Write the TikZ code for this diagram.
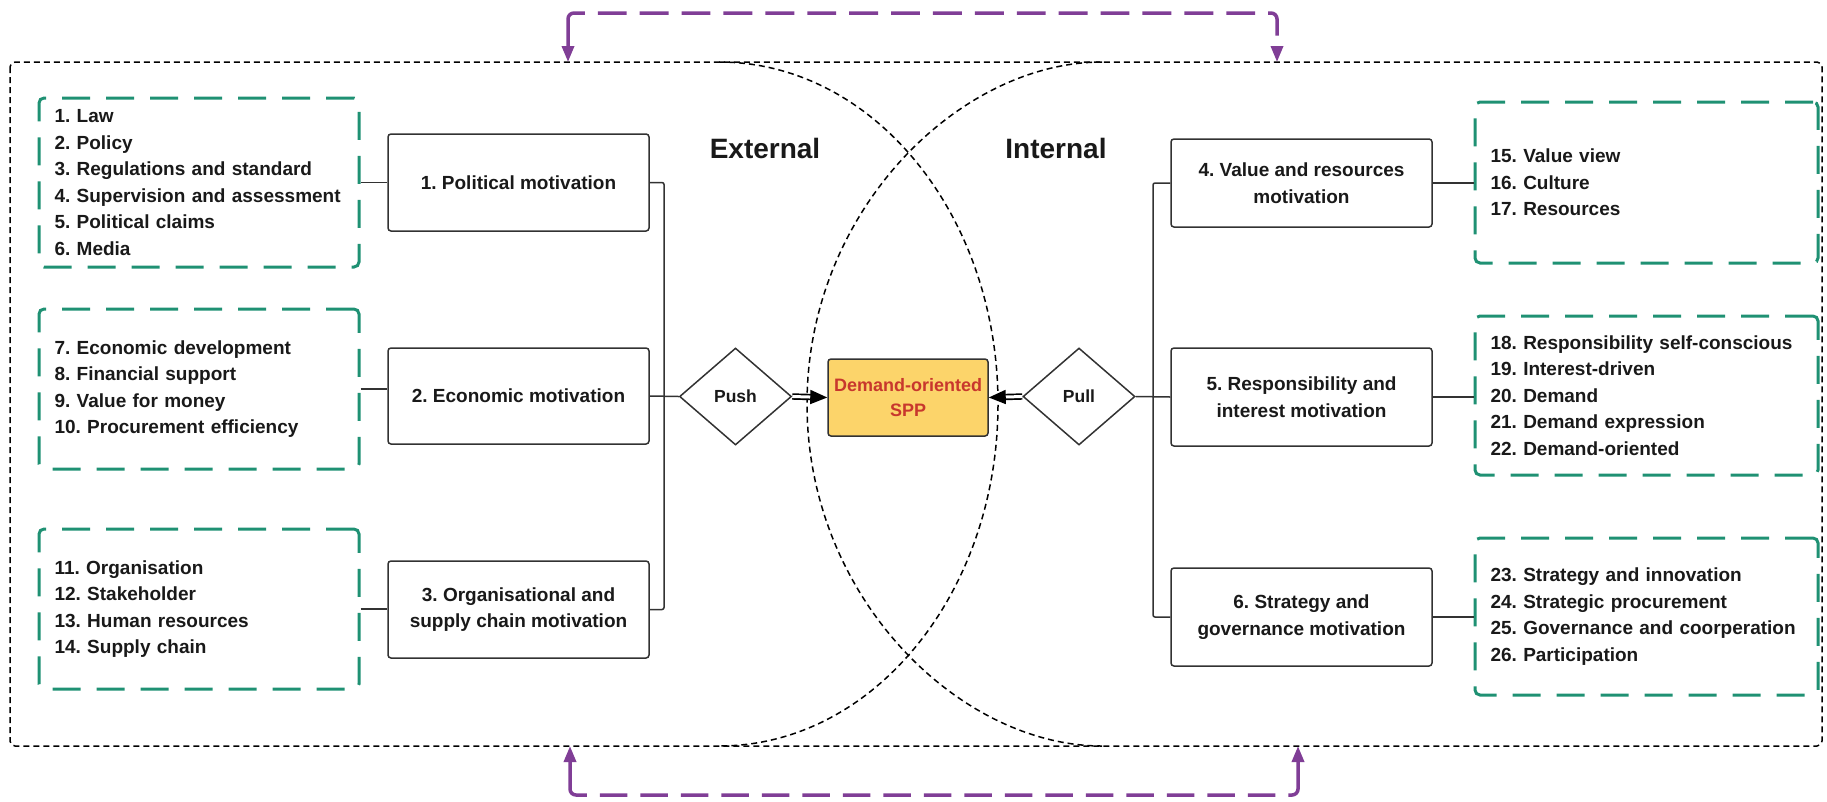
\documentclass[tikz,border=0pt]{standalone}
\usepackage{fontspec}
\setmainfont{Liberation Sans}
\usetikzlibrary{shapes.geometric,arrows.meta}
\definecolor{grn}{RGB}{31,145,115}
\definecolor{purp}{RGB}{128,62,150}
\definecolor{sppfill}{RGB}{252,212,106}
\definecolor{sppred}{RGB}{200,55,45}
\definecolor{edgec}{RGB}{50,50,50}
\definecolor{txt}{RGB}{25,25,25}
\frenchspacing
\newcommand\myfont{\fontsize{19}{26.5}\selectfont\bfseries\frenchspacing\hyphenpenalty=10000\exhyphenpenalty=10000}
\begin{document}
\begin{tikzpicture}[x=1pt,y=-1pt,
  dotline/.style={draw=black,line width=1.5pt,dash pattern=on 6pt off 4pt},
  listbox/.style={draw=grn,line width=3pt,dash pattern=on 28pt off 16pt,rounded corners=5pt,
    align=left,inner xsep=15.5pt,inner ysep=0pt,font=\myfont,text=txt},
  motbox/.style={draw=edgec,line width=1.5pt,rounded corners=3pt,minimum width=261pt,
    align=center,font=\myfont,text=txt,inner sep=0pt},
  diam/.style={diamond,draw=edgec,line width=1.5pt,minimum width=112pt,minimum height=97pt,
    inner sep=0pt,font=\fontsize{17.5}{20}\selectfont\bfseries,text=txt},
  conn/.style={draw=edgec,line width=1.5pt,rounded corners=2pt},
  pushpull/.style={draw=black,line width=1.7pt,double=white,double distance=3pt,
    -{Triangle[length=17pt,width=14pt]}},
  purpline/.style={draw=purp,line width=3.5pt,rounded corners=6pt,
    {Triangle[length=16pt,width=12pt]}-{Triangle[length=16pt,width=12pt]}},
  title/.style={font=\fontsize{28}{32}\selectfont\bfseries,text=txt}
]
\useasboundingbox (0,0) rectangle (1827,801);

% outer frame and arcs
\draw[dotline,rounded corners=5pt] (10,62) rectangle (1822,746);
\draw[dotline] (719,62) .. controls (873.6,62) and (998,215.2) .. (998,404)
                        .. controls (998,592.8) and (873.6,746) .. (719,746);
\draw[dotline] (1102,62) .. controls (960,62) and (807,210) .. (807,404)
                        .. controls (807,598) and (960,746) .. (1102,746);

% titles
\node[title] (ext) at (765,148) {External};
\node[title] (int) at (1056,148) {Internal};

% left list boxes
\node[listbox,text width=289pt,minimum height=169pt] (g1) at (199,182.5)
 {1. Law\\2. Policy\\3. Regulations and standard\\4. Supervision and assessment\\5. Political claims\\6. Media};
\node[listbox,text width=289pt,minimum height=160pt] (g2) at (199,389)
 {7. Economic development\\8. Financial support\\9. Value for money\\10. Procurement efficiency};
\node[listbox,text width=289pt,minimum height=160pt] (g3) at (199,609)
 {11. Organisation\\12. Stakeholder\\13. Human resources\\14. Supply chain};

% right list boxes
\node[listbox,text width=312pt,minimum height=161pt] (g4) at (1646.5,182.5)
 {15. Value view\\16. Culture\\17. Resources};
\node[listbox,text width=312pt,minimum height=159pt] (g5) at (1646.5,395.5)
 {18. Responsibility self-conscious\\19. Interest-driven\\20. Demand\\21. Demand expression\\22. Demand-oriented};
\node[listbox,text width=312pt,minimum height=157pt] (g6) at (1646.5,616.5)
 {23. Strategy and innovation\\24. Strategic procurement\\25. Governance and coorperation\\26. Participation};

% motivation boxes
\node[motbox,minimum height=97pt] (b1) at (518.5,182.5) {1. Political motivation};
\node[motbox,minimum height=96pt] (b2) at (518.5,396) {2. Economic motivation};
\node[motbox,minimum height=97pt] (b3) at (518.5,609.5) {3. Organisational and\\supply chain motivation};
\node[motbox,minimum height=88pt] (b4) at (1301.5,183) {4. Value and resources\\motivation};
\node[motbox,minimum height=98pt] (b5) at (1301.5,397) {5. Responsibility and\\interest motivation};
\node[motbox,minimum height=98pt] (b6) at (1301.5,617) {6. Strategy and\\governance motivation};

% centre
\node[diam] (push) at (735.5,396.5) {Push};
\node[diam] (pull) at (1079,396.5) {Pull};
\node[draw=edgec,line width=1.5pt,fill=sppfill,rounded corners=3pt,minimum width=160pt,
  minimum height=77pt,inner sep=0pt,align=center,text=sppred,
  font=\fontsize{18}{25}\selectfont\bfseries] (spp) at (908,397.5) {Demand-oriented\\SPP};

% connectors list -> motivation
\draw[conn] (g1.east) -- (g1.east -| b1.west);
\draw[conn] (g2.east) -- (g2.east -| b2.west);
\draw[conn] (g3.east) -- (g3.east -| b3.west);
\draw[conn] (b4.east) -- (b4.east -| g4.west);
\draw[conn] (b5.east) -- (b5.east -| g5.west);
\draw[conn] (b6.east) -- (b6.east -| g6.west);

% buses
\coordinate (busL) at (664,400);
\coordinate (busR) at (1153,400);
\draw[conn] (b1.east) -| (busL) |- (b3.east);
\draw[conn] (b4.west) -| (busR) |- (b6.west);
\draw[conn] (b2.east) -- (push.west);
\draw[conn] (pull.east) -- (b5.west);

% push / pull arrows
\draw[pushpull] (push.east) -- (spp.west);
\draw[pushpull] (pull.west) -- (spp.east);

% purple feedback connectors
\coordinate (ptl) at (568,62);
\coordinate (ptr) at (1277,62);
\coordinate (pbl) at (570,746);
\coordinate (pbr) at (1298,746);
\draw[purpline,dash pattern=on 48pt off 13pt on 28.9pt off 13pt on 28.9pt off 13pt on 28.9pt off 13pt on 28.9pt off 13pt on 28.9pt off 13pt on 28.9pt off 13pt on 28.9pt off 13pt on 28.9pt off 13pt on 28.9pt off 13pt on 28.9pt off 13pt on 28.9pt off 13pt on 28.9pt off 13pt on 28.9pt off 13pt on 28.9pt off 13pt on 28.9pt off 13pt on 28.9pt off 13pt on 28.9pt off 13pt on 90pt off 10pt]
  (ptl) -- ++(0,-49) -| (ptr);
\draw[purpline,dash pattern=on 48pt off 13pt on 27.5pt off 13pt on 27.5pt off 13pt on 27.5pt off 13pt on 27.5pt off 13pt on 27.5pt off 13pt on 27.5pt off 13pt on 27.5pt off 13pt on 27.5pt off 13pt on 27.5pt off 13pt on 27.5pt off 13pt on 27.5pt off 13pt on 27.5pt off 13pt on 27.5pt off 13pt on 27.5pt off 13pt on 27.5pt off 13pt on 27.5pt off 13pt on 27.5pt off 13pt on 90pt off 10pt]
  (pbl) -- ++(0,49) -| (pbr);
\end{tikzpicture}
\end{document}
